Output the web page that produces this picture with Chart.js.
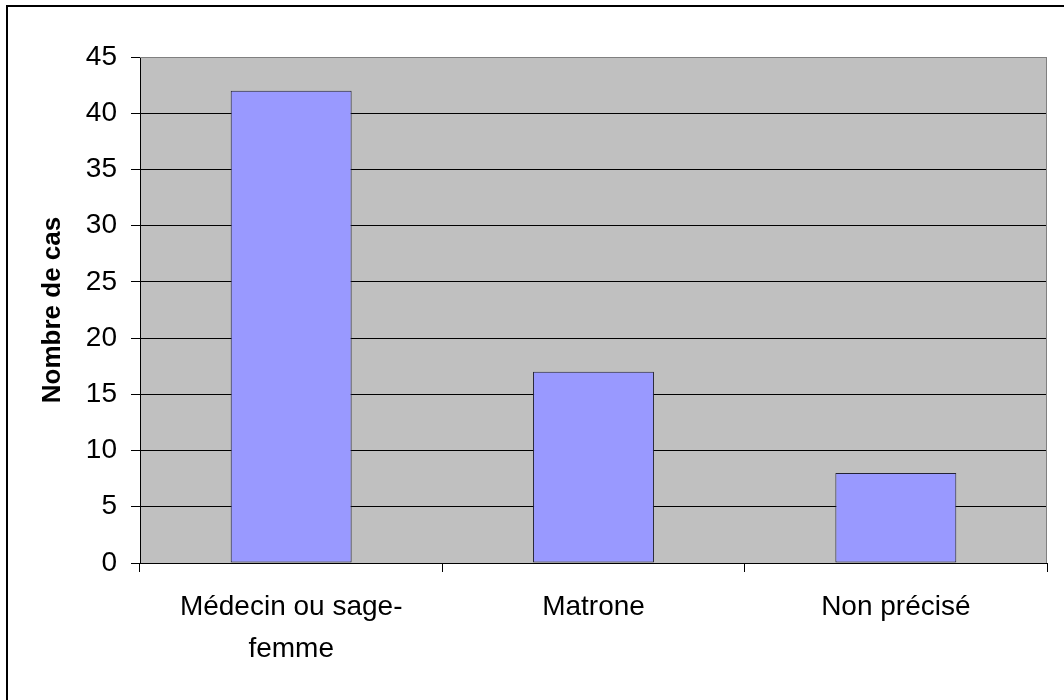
<!DOCTYPE html>
<html>
<head>
<meta charset="utf-8">
<title>Nombre de cas</title>
<script src="https://cdn.jsdelivr.net/npm/chart.js@4/dist/chart.umd.min.js"></script>
<style>
  html, body { margin: 0; padding: 0; background: #ffffff; }
  #wrap { width: 1064px; height: 700px; }
</style>
</head>
<body>
<div id="wrap"><canvas id="c" width="1064" height="700"></canvas></div>
<script>
// Categories and counts
const categories = [['Médecin ou sage-', 'femme'], 'Matrone', 'Non précisé'];
const cases = [42, 17, 8];
const yTicks = [0, 5, 10, 15, 20, 25, 30, 35, 40, 45];

const FONT = '"Liberation Sans", Arial, sans-serif';

// White page, outer frame and grey plot area behind the grid
const backdrop = {
  id: 'backdrop',
  beforeDraw(chart) {
    const ctx = chart.ctx;
    const a = chart.chartArea;
    ctx.save();
    ctx.fillStyle = '#ffffff';
    ctx.fillRect(0, 0, chart.width, chart.height);
    ctx.strokeStyle = '#000000';
    ctx.lineWidth = 2;
    ctx.strokeRect(7, 6, chart.width + 20, chart.height + 20);
    ctx.fillStyle = '#c0c0c0';
    ctx.fillRect(a.left, a.top, a.right - a.left, a.bottom - a.top);
    ctx.restore();
  },
  beforeDatasetsDraw(chart) {
    const ctx = chart.ctx;
    const a = chart.chartArea;
    ctx.save();
    ctx.strokeStyle = '#808080';
    ctx.lineWidth = 1;
    ctx.beginPath();
    ctx.moveTo(a.left, a.top + 0.5);
    ctx.lineTo(a.right - 0.5, a.top + 0.5);
    ctx.lineTo(a.right - 0.5, a.bottom);
    ctx.stroke();
    ctx.restore();
  }
};

new Chart(document.getElementById('c'), {
  type: 'bar',
  data: {
    labels: categories,
    datasets: [{
      data: cases,
      backgroundColor: '#9999ff',
      borderColor: '#222233',
      borderWidth: 1,
      borderSkipped: false,
      categoryPercentage: 1.0,
      barPercentage: 0.4
    }]
  },
  options: {
    responsive: false,
    animation: false,
    devicePixelRatio: 1,
    layout: { padding: { left: 0, top: 57, right: 17, bottom: 0 } },
    plugins: {
      legend: { display: false },
      tooltip: { enabled: false }
    },
    scales: {
      x: {
        offset: true,
        grid: {
          display: true,
          offset: true,
          drawOnChartArea: false,
          drawTicks: true,
          tickLength: 9,
          color: '#000000'
        },
        border: { display: true, color: '#000000', width: 1 },
        ticks: {
          color: '#000000',
          padding: 14,
          maxRotation: 0,
          autoSkip: false,
          font: { family: FONT, size: 28, lineHeight: 1.5 }
        },
        afterFit(scale) { scale.height = 137; }
      },
      y: {
        min: 0,
        max: 45,
        afterBuildTicks(scale) { scale.ticks = yTicks.map(v => ({ value: v })); },
        grid: {
          display: true,
          drawTicks: true,
          tickLength: 9,
          color: (c) => (c.tick && c.tick.value === 45 ? '#808080' : '#000000'),
          tickColor: '#000000'
        },
        border: { display: true, color: '#000000', width: 1 },
        ticks: {
          color: '#000000',
          padding: 14,
          font: { family: FONT, size: 28 }
        },
        title: {
          display: true,
          text: 'Nombre de cas',
          color: '#000000',
          padding: { top: 37, bottom: 0 },
          font: { family: FONT, size: 26, weight: 'bold', lineHeight: 1.2 }
        },
        afterFit(scale) { scale.width = 140; }
      }
    }
  },
  plugins: [backdrop]
});
</script>
</body>
</html>
